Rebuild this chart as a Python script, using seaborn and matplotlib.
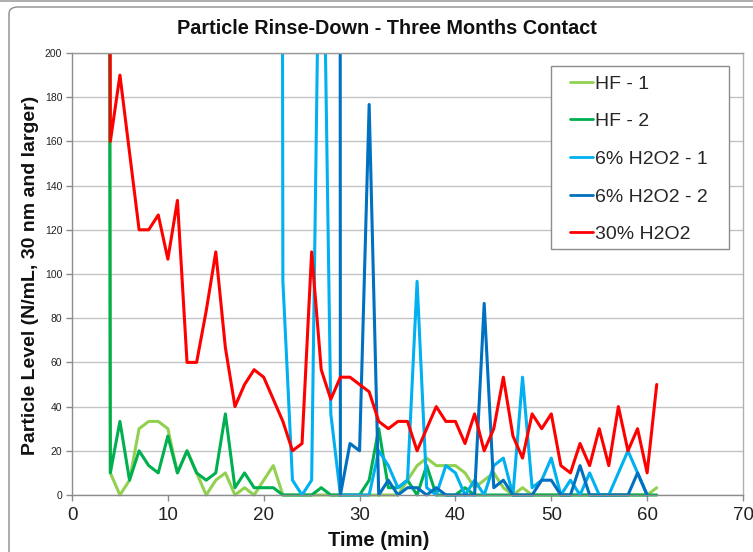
import matplotlib
matplotlib.use("Agg")
import matplotlib.pyplot as plt
from matplotlib.patches import Rectangle, FancyBboxPatch
from matplotlib.lines import Line2D
import numpy as np
import pandas as pd
import seaborn as sns

# ---------------- data ----------------
series_names = ["HF - 1", "HF - 2", "6% H2O2 - 1", "6% H2O2 - 2", "30% H2O2"]
series_colors = ["#92D050", "#00B050", "#00B0F0", "#0070C0", "#FF0000"]

time_hf = list(range(3, 62))
hf1 = [3000, 10, 0, 6.7, 30, 33.3, 33.3, 30, 10, 20, 10, 0, 6.7, 10, 0, 3.3, 0, 6.7, 13.3,
       0, 0, 0, 0, 0, 0, 0, 0, 0, 0, 0, 0, 0,
       6.7, 13.3, 16.7, 13.3, 13.3, 13.3, 10, 3.3, 6.7, 10, 3.3, 0, 3.3,
       0, 0, 0, 0, 0, 0, 0, 0, 0, 0, 0, 0, 0, 3.3]
hf2 = [3000, 10, 33.3, 6.7, 20, 13.3, 10, 26.7, 10, 20, 10, 6.7, 10, 36.7, 3.3, 10, 3.3, 3.3, 3.3,
       0, 0, 0, 0, 3.3, 0, 0, 0, 0, 6.7, 30, 3.3, 3.3,
       6.7, 0, 13.3, 0, 0, 0, 3.3, 0, 0, 0, 0, 0, 0,
       0, 0, 0, 0, 0, 0, 0, 0, 0, 0, 0, 0, 0, 0]

time_h30 = list(range(3, 62))
h2o2_30 = [3000, 160, 190, 155, 120, 120, 126.7, 106.7, 133.3, 60, 60, 83.3, 110, 66.7, 40, 50, 56.7, 53.3, 43.3,
           33.3, 20, 23.3, 110, 56.7, 43.3, 53.3, 53.3, 50, 46.7, 33.3, 30, 33.3,
           33.3, 20, 30, 40, 33.3, 33.3, 23.3, 36.7, 20, 30, 53.3, 26.7, 16.7,
           36.7, 30, 36.7, 13.3, 10, 23.3, 13.3, 30, 13.3, 40, 20, 30, 10, 50]

time_h6_1 = list(range(21, 61))
h2o2_6_1 = [3000, 96.7, 6.7, 0, 6.7, 330, 36.7, 0, 0, 0,
            0, 20, 13.3, 3.3, 6.7, 96.7, 3.3, 0, 13.3, 10,
            0, 6.7, 0, 13.3, 16.7, 0, 53.3, 3.3, 6.7, 16.7,
            0, 6.7, 0, 10, 0, 0, 10, 20, 10, 0]

time_h6_2 = list(range(27, 61))
h2o2_6_2 = [10000, 0, 23.3, 20, 176.7, 0, 6.7, 0, 3.3, 3.3,
            0, 3.3, 0, 0, 0, 0, 86.7, 3.3, 6.7, 0,
            0, 0, 6.7, 6.7, 0, 0, 13.3, 0, 0, 0,
            0, 0, 10, 0]

x_ticks = [0, 10, 20, 30, 40, 50, 60, 70]
y_ticks = [0, 20, 40, 60, 80, 100, 120, 140, 160, 180, 200]

title = "Particle Rinse-Down - Three Months Contact"
x_label = "Time (min)"
y_label = "Particle Level (N/mL, 30 nm and larger)"

# ---------------- build table ----------------
frames = []
for name, t, v in zip(series_names,
                      [time_hf, time_hf, time_h6_1, time_h6_2, time_h30],
                      [hf1, hf2, h2o2_6_1, h2o2_6_2, h2o2_30]):
    frames.append(pd.DataFrame({"time": t, "level": v, "series": name}))
df = pd.concat(frames, ignore_index=True)

# ---------------- style ----------------
sns.set_style("white")
plt.rcParams["font.family"] = ["Liberation Sans", "DejaVu Sans"]

W, H = 753, 552
fig = plt.figure(figsize=(W / 100, H / 100), dpi=100)
fig.patch.set_facecolor("white")

# chart-area border (rounded) and top screenshot line
fig.patches.append(FancyBboxPatch((9 / W, -0.1), 1.2, 1 - 7 / H + 0.1,
                                  boxstyle="round,pad=0,rounding_size=0.012",
                                  transform=fig.transFigure, fill=False,
                                  edgecolor="#8C8C8C", linewidth=1.0))
fig.lines.append(Line2D([0, 1], [1 - 0.8 / H, 1 - 0.8 / H], transform=fig.transFigure,
                        color="#A0A0A0", linewidth=1.2))

ax = fig.add_axes([72 / W, 1 - 495 / H, (743 - 72) / W, (495 - 53) / H])

sns.lineplot(data=df, x="time", y="level", hue="series", hue_order=series_names,
             palette=series_colors, estimator=None, sort=False, linewidth=2.2,
             ax=ax, legend=True)

ax.set_xlim(0, 70)
ax.set_ylim(0, 200)
ax.set_xticks(x_ticks)
ax.set_yticks(y_ticks)
ax.set_xlabel("")
ax.set_ylabel("")

clip = Rectangle((0, -0.012), 1, 1.012, transform=ax.transAxes)
for ln in ax.get_lines():
    ln.set_clip_path(clip)
    ln.set_solid_joinstyle("round")

ax.yaxis.grid(True, color="#C4C4C4", linewidth=1.0)
ax.xaxis.grid(False)
ax.set_axisbelow(True)
for side in ["left", "bottom"]:
    ax.spines[side].set_color("#8C8C8C")
    ax.spines[side].set_linewidth(1.0)
ax.spines["top"].set_color("#9A9A9A")
ax.spines["top"].set_linewidth(1.0)
ax.spines["right"].set_color("#B0B0B0")
ax.spines["right"].set_linewidth(1.0)

ax.tick_params(axis="x", labelsize=13.5, length=4, width=1, color="#8C8C8C",
               pad=5, labelcolor="#222222", direction="out", bottom=True)
ax.tick_params(axis="y", labelsize=7.5, length=4, width=1, color="#8C8C8C",
               pad=3, labelcolor="#222222", direction="out", left=True)

# legend
handles, labels = ax.get_legend_handles_labels()
ax.get_legend().remove()
ax.add_patch(Rectangle(((551 - 72) / 671, (495 - 249) / 442), 178 / 671, 183 / 442,
                       transform=ax.transAxes, facecolor="white", edgecolor="#8C8C8C",
                       linewidth=1.0, zorder=5))
for h in handles:
    h.set_linewidth(2.0)
leg = ax.legend(handles, labels, loc="upper left",
                bbox_to_anchor=((570 - 72) / 671, (495 - 75) / 442),
                frameon=False, fontsize=14, handlelength=1.2, handletextpad=0.1,
                labelspacing=1.03, borderpad=0, borderaxespad=0)
leg.set_zorder(6)

# titles
fig.text(387 / W, 1 - 28 / H, title, fontsize=14.3, fontweight="bold",
         ha="center", va="center", color="#111111")
fig.text(31 / W, 1 - 275 / H, y_label, fontsize=14, fontweight="bold",
         ha="center", va="center", rotation=90, color="#111111")
fig.text(379 / W, 1 - 541 / H, x_label, fontsize=14.5, fontweight="bold",
         ha="center", va="center", color="#111111")

fig.savefig("out.png", dpi=100)
